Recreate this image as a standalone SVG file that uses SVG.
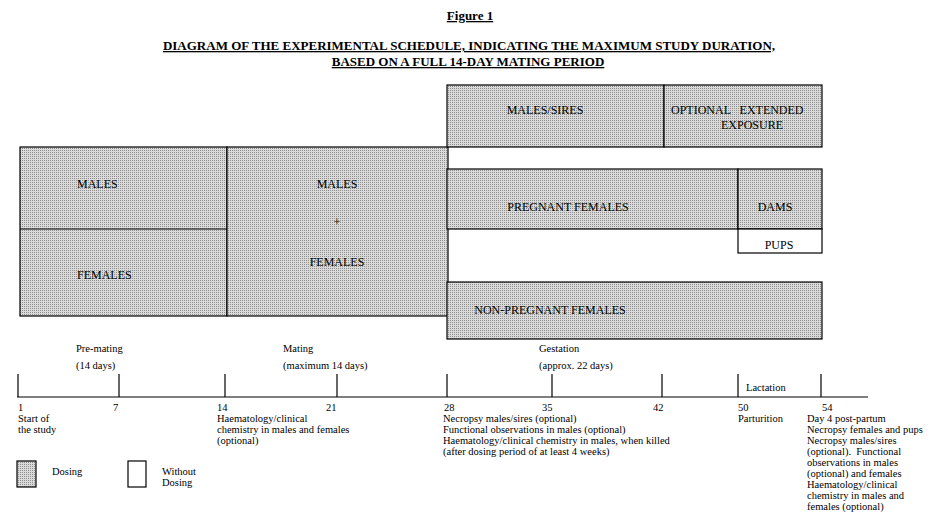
<svg xmlns="http://www.w3.org/2000/svg" width="935" height="514" viewBox="0 0 935 514">
<style>
.t{font-family:"Liberation Serif","Times New Roman",serif;fill:#000}
.h{font-size:13px;font-weight:bold;text-decoration:underline}
.b{font-size:12px}
.s{font-size:10.5px}
.dose{fill:url(#dots);stroke:#000;stroke-width:1.2}
.nod{fill:#fff;stroke:#000;stroke-width:1.2}
.ln{stroke:#000;stroke-width:1.2;fill:none}
</style>
<defs>
<pattern id="dots" width="2" height="2" patternUnits="userSpaceOnUse">
<rect width="2" height="2" fill="#dadada"/>
<rect width="1" height="1" fill="#8e8e8e"/>
</pattern>
</defs>
<rect width="935" height="514" fill="#fff"/>
<g id="title">
<text class="t h" x="470" y="20" text-anchor="middle">Figure  1 </text>
<text class="t h" x="469" y="50" text-anchor="middle">DIAGRAM OF THE EXPERIMENTAL SCHEDULE, INDICATING THE MAXIMUM STUDY DURATION,</text>
<text class="t h" x="468" y="66" text-anchor="middle">BASED ON A FULL 14-DAY MATING PERIOD</text>
</g>
<g id="premating">
<rect class="dose" x="20" y="147" width="207" height="169"/>
<line class="ln" x1="20" y1="229" x2="227" y2="229"/>
<text class="t b" x="77" y="188">MALES</text>
<text class="t b" x="77" y="279">FEMALES</text>
</g>
<g id="mating">
<rect class="dose" x="227" y="147" width="221" height="169"/>
<text class="t b" x="337" y="188" text-anchor="middle">MALES</text>
<text class="t b" x="337" y="226" text-anchor="middle">+</text>
<text class="t b" x="337" y="266" text-anchor="middle">FEMALES</text>
</g>
<g id="males-sires">
<rect class="dose" x="447" y="85" width="217" height="62"/>
<text class="t b" x="545" y="114" text-anchor="middle">MALES/SIRES</text>
</g>
<g id="extended">
<rect class="dose" x="664" y="85" width="158" height="62"/>
<text class="t b" x="671" y="114" xml:space="preserve">OPTIONAL   EXTENDED</text>
<text class="t b" x="721" y="129">EXPOSURE</text>
</g>
<g id="pregnant">
<rect class="dose" x="447" y="169" width="291" height="60"/>
<text class="t b" x="568" y="211" text-anchor="middle">PREGNANT FEMALES</text>
</g>
<g id="dams">
<rect class="dose" x="738" y="169" width="84" height="60"/>
<text class="t b" x="775" y="211" text-anchor="middle">DAMS</text>
</g>
<g id="pups">
<rect class="nod" x="738" y="229" width="84" height="24"/>
<text class="t b" x="779" y="249" text-anchor="middle">PUPS</text>
</g>
<g id="nonpregnant">
<rect class="dose" x="447" y="282" width="375" height="57"/>
<text class="t b" x="550" y="314" text-anchor="middle">NON-PREGNANT FEMALES</text>
</g>
<g id="timeline">
<line class="ln" x1="17" y1="397" x2="868" y2="397"/>
<line class="ln" x1="18" y1="374" x2="18" y2="397"/>
<line class="ln" x1="119" y1="374" x2="119" y2="397"/>
<line class="ln" x1="225" y1="374" x2="225" y2="397"/>
<line class="ln" x1="337" y1="374" x2="337" y2="397"/>
<line class="ln" x1="447" y1="374" x2="447" y2="397"/>
<line class="ln" x1="552" y1="374" x2="552" y2="397"/>
<line class="ln" x1="662" y1="374" x2="662" y2="397"/>
<line class="ln" x1="738" y1="374" x2="738" y2="397"/>
<line class="ln" x1="821" y1="374" x2="821" y2="397"/>
<text class="t s" x="76" y="352">Pre-mating</text>
<text class="t s" x="76" y="369">(14 days)</text>
<text class="t s" x="283" y="352">Mating</text>
<text class="t s" x="283" y="369">(maximum 14 days)</text>
<text class="t s" x="539" y="352">Gestation</text>
<text class="t s" x="539" y="369">(approx. 22 days)</text>
<text class="t s" x="746" y="391">Lactation</text>
<text class="t s" x="18" y="411">1</text>
<text class="t s" x="113" y="411">7</text>
<text class="t s" x="217" y="411">14</text>
<text class="t s" x="326" y="411">21</text>
<text class="t s" x="444" y="411">28</text>
<text class="t s" x="542" y="411">35</text>
<text class="t s" x="653" y="411">42</text>
<text class="t s" x="738" y="411">50</text>
<text class="t s" x="822" y="411">54</text>
</g>
<g id="notes">
<text class="t s" x="18" y="422">Start of</text>
<text class="t s" x="18" y="433">the study</text>
<text class="t s" x="217" y="422">Haematology/clinical</text>
<text class="t s" x="217" y="433">chemistry in males and females</text>
<text class="t s" x="217" y="444">(optional)</text>
<text class="t s" x="443" y="422">Necropsy males/sires (optional)</text>
<text class="t s" x="443" y="433">Functional observations in males (optional)</text>
<text class="t s" x="443" y="444">Haematology/clinical chemistry in males, when killed</text>
<text class="t s" x="443" y="455">(after dosing period of at least 4 weeks)</text>
<text class="t s" x="738" y="422">Parturition</text>
<text class="t s" x="807" y="422">Day 4 post-partum</text>
<text class="t s" x="807" y="433">Necropsy females and pups</text>
<text class="t s" x="807" y="444">Necropsy males/sires</text>
<text class="t s" x="807" y="455" xml:space="preserve">(optional).  Functional</text>
<text class="t s" x="807" y="466">observations in males</text>
<text class="t s" x="807" y="477">(optional) and females</text>
<text class="t s" x="807" y="488">Haematology/clinical</text>
<text class="t s" x="807" y="499">chemistry in males and</text>
<text class="t s" x="807" y="510">females (optional)</text>
</g>
<g id="legend">
<rect class="dose" x="17" y="461" width="19" height="26"/>
<text class="t s" x="52" y="475">Dosing</text>
<rect class="nod" x="128" y="461" width="18" height="26"/>
<text class="t s" x="162" y="475">Without</text>
<text class="t s" x="162" y="486">Dosing</text>
</g>
</svg>
